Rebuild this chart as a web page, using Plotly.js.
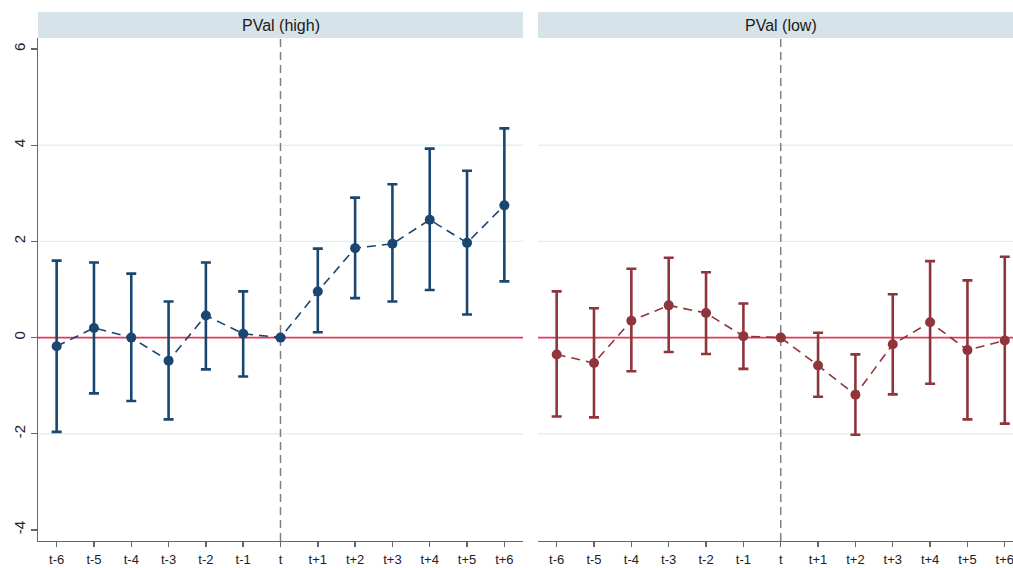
<!DOCTYPE html>
<html>
<head>
<meta charset="utf-8">
<script src="https://cdn.plot.ly/plotly-3.0.1.min.js"></script>
<style>html,body{margin:0;padding:0;background:#fff;}#chart{width:1013px;height:568px;}</style>
</head>
<body>
<div id="chart"></div>
<script>
// Categories (event time)
const periods = ['t-6','t-5','t-4','t-3','t-2','t-1','t','t+1','t+2','t+3','t+4','t+5','t+6'];

// PVal (high) panel: point estimates and CI bounds
const highCoef  = [-0.18, 0.20, 0.00, -0.48, 0.46, 0.08, 0, 0.96, 1.86, 1.95, 2.45, 1.97, 2.75];
const highLower = [-1.96, -1.16, -1.32, -1.70, -0.66, -0.81, 0, 0.11, 0.82, 0.75, 0.99, 0.48, 1.17];
const highUpper = [1.60, 1.56, 1.33, 0.75, 1.56, 0.96, 0, 1.85, 2.91, 3.19, 3.93, 3.47, 4.35];

// PVal (low) panel
const lowCoef  = [-0.35, -0.53, 0.35, 0.67, 0.51, 0.03, 0, -0.58, -1.19, -0.14, 0.32, -0.26, -0.06];
const lowLower = [-1.64, -1.66, -0.70, -0.30, -0.34, -0.65, 0, -1.23, -2.02, -1.18, -0.96, -1.70, -1.79];
const lowUpper = [0.96, 0.61, 1.43, 1.66, 1.36, 0.71, 0, 0.10, -0.35, 0.90, 1.59, 1.19, 1.68];

const panelTitles = ['PVal (high)', 'PVal (low)'];
const yTicks = [-4, -2, 0, 2, 4, 6];
const gridValues = [-2, 2, 4];

function mkTrace(coef, lo, hi, color, xa, ya) {
  return {
    x: periods, y: coef, xaxis: xa, yaxis: ya,
    type: 'scatter', mode: 'lines+markers',
    line: {color: color, width: 1.6, dash: '9px,6px'},
    marker: {color: color, size: 10},
    error_y: {
      type: 'data', symmetric: false,
      array: hi.map((h, i) => h - coef[i]),
      arrayminus: coef.map((c, i) => c - lo[i]),
      color: color, thickness: 2.6, width: 5
    },
    showlegend: false, hoverinfo: 'skip'
  };
}

const traces = [
  mkTrace(highCoef, highLower, highUpper, '#1a476f', 'x', 'y'),
  mkTrace(lowCoef, lowLower, lowUpper, '#90353b', 'x2', 'y2')
];

// geometry in plot-area fraction (plot area = 975 x 503 px)
const leftDom = [0, 485/975];
const rightDom = [500/975, 1];
const hdrTop = 1 + 26/503;
const FONT = 'Liberation Sans, Arial, sans-serif';

const xCommon = {
  type: 'category', showgrid: false, zeroline: false,
  showline: true, linecolor: '#666666', linewidth: 1.4,
  ticks: 'outside', ticklen: 5, tickcolor: '#666666', tickwidth: 1.4,
  ticklabelstandoff: 1,
  tickfont: {family: FONT, size: 13, color: '#222'},
  fixedrange: true
};
const yCommon = {
  range: [-4.23, 6.23], tickvals: yTicks, ticktext: yTicks.map(String),
  showgrid: false, zeroline: false,
  fixedrange: true
};

const shapes = [];
const annotations = [];
[leftDom, rightDom].forEach((dom, k) => {
  const xr = k === 0 ? 'x' : 'x2';
  const yr = k === 0 ? 'y' : 'y2';
  const fullRight = k === 0 ? dom[1] : dom[0] + 485/975;
  // header strip
  shapes.push({type: 'rect', xref: 'paper', yref: 'paper', x0: dom[0], x1: fullRight,
    y0: 1, y1: hdrTop, fillcolor: '#d6e4ea', line: {width: 0}, layer: 'below'});
  annotations.push({xref: 'paper', yref: 'paper', x: (dom[0] + fullRight) / 2, y: 1 + 13/503,
    text: panelTitles[k], showarrow: false, xanchor: 'center', yanchor: 'middle',
    font: {family: FONT, size: 16, color: '#1a1a1a'}});
  // horizontal grid lines
  gridValues.forEach(g => shapes.push({type: 'line', xref: xr + ' domain', yref: yr,
    x0: 0, x1: 1, y0: g, y1: g, line: {color: '#e4eff2', width: 1.3}, layer: 'below'}));
  // zero reference line
  shapes.push({type: 'line', xref: xr + ' domain', yref: yr, x0: 0, x1: 1, y0: 0, y1: 0,
    line: {color: '#e5365c', width: 1.6}, layer: 'below'});
  // event-time vertical dashed line
  shapes.push({type: 'line', xref: xr, yref: yr + ' domain', x0: 't', x1: 't', y0: 0, y1: 1,
    line: {color: '#808080', width: 1.5, dash: '8px,5px'}, layer: 'below'});
});

const layout = {
  width: 1013, height: 568,
  margin: {l: 38, r: 0, t: 38, b: 27},
  paper_bgcolor: '#ffffff', plot_bgcolor: '#ffffff',
  xaxis: Object.assign({}, xCommon, {domain: leftDom, range: [-0.5, 12.5], anchor: 'y'}),
  xaxis2: Object.assign({}, xCommon, {domain: rightDom, range: [-0.5, 12.22], anchor: 'y2'}),
  yaxis: Object.assign({}, yCommon, {anchor: 'x', showline: true, linecolor: '#666666', linewidth: 1.4,
    ticks: 'outside', ticklen: 6, tickcolor: '#666666', tickwidth: 1.4, tickangle: -90,
    tickfont: {family: FONT, size: 15, color: '#222'}}),
  yaxis2: Object.assign({}, yCommon, {anchor: 'x2', showline: false, showticklabels: false, ticks: ''}),
  shapes: shapes, annotations: annotations
};

Plotly.newPlot('chart', traces, layout, {staticPlot: true, displayModeBar: false});
</script>
</body>
</html>
